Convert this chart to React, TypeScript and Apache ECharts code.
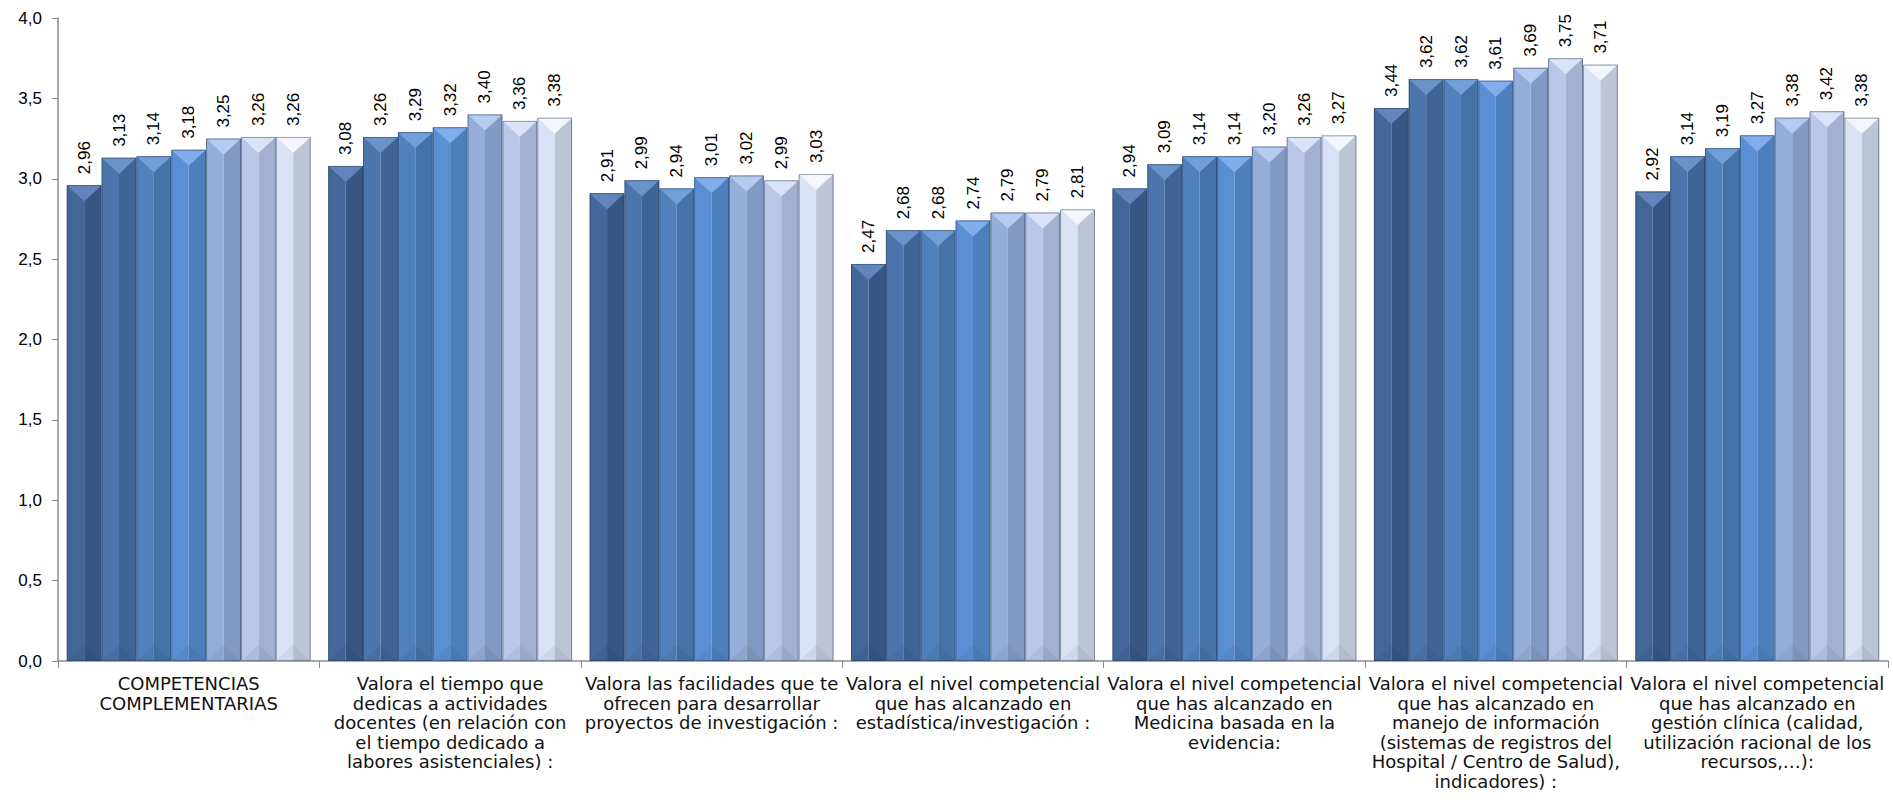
import React, { useEffect, useRef } from "react";
import * as echarts from "echarts";

const categories = [
  "COMPETENCIAS\nCOMPLEMENTARIAS",
  "Valora el tiempo que\ndedicas a actividades\ndocentes (en relación con\nel tiempo dedicado a\nlabores asistenciales) :",
  "Valora las facilidades que te\nofrecen para desarrollar\nproyectos de investigación :",
  "Valora el nivel competencial\nque has alcanzado en\nestadística/investigación :",
  "Valora el nivel competencial\nque has alcanzado en\nMedicina basada en la\nevidencia:",
  "Valora el nivel competencial\nque has alcanzado en\nmanejo de información\n(sistemas de registros del\nHospital / Centro de Salud),\nindicadores) :",
  "Valora el nivel competencial\nque has alcanzado en\ngestión clínica (calidad,\nutilización racional de los\nrecursos,…):",
];

const serie1 = [2.96, 3.08, 2.91, 2.47, 2.94, 3.44, 2.92];
const serie2 = [3.13, 3.26, 2.99, 2.68, 3.09, 3.62, 3.14];
const serie3 = [3.14, 3.29, 2.94, 2.68, 3.14, 3.62, 3.19];
const serie4 = [3.18, 3.32, 3.01, 2.74, 3.14, 3.61, 3.27];
const serie5 = [3.25, 3.4, 3.02, 2.79, 3.2, 3.69, 3.38];
const serie6 = [3.26, 3.36, 2.99, 2.79, 3.26, 3.75, 3.42];
const serie7 = [3.26, 3.38, 3.03, 2.81, 3.27, 3.71, 3.38];

const allSeries = [serie1, serie2, serie3, serie4, serie5, serie6, serie7];

const yTicks = { min: 0, max: 4, interval: 0.5 };

const palette = [
  { left: "#44679a", right: "#365784", top: "#6286bb" },
  { left: "#4b75ab", right: "#3f6596", top: "#6c93c9" },
  { left: "#5081bd", right: "#4572a8", top: "#739fd8" },
  { left: "#5b8fd3", right: "#4d7fbd", top: "#82adec" },
  { left: "#95add9", right: "#8299c4", top: "#b6cbf0" },
  { left: "#b9c8e9", right: "#a2b1d0", top: "#d9e4f8" },
  { left: "#d8e3f6", right: "#bcc5d6", top: "#f3f6fc" },
];

const fmt = (v: number, d: number) => v.toFixed(d).replace(".", ",");

export default function App() {
  const ref = useRef<HTMLDivElement>(null);
  useEffect(() => {
    if (!ref.current) return;
    const chart = echarts.init(ref.current, null, { renderer: "svg" });
    const n = allSeries.length;
    const gapRatio = 0.067;
    const series = allSeries.map((vals, si) => ({
      type: "custom",
      name: "S" + (si + 1),
      data: vals.map((v, j) => [j, v]),
      encode: { x: 0, y: 1 },
      renderItem: (params: any, api: any) => {
        const j = api.value(0);
        const v = api.value(1);
        const top = api.coord([j, v]);
        const base = api.coord([j, 0]);
        const band = api.size([1, 0])[0];
        const groupW = band * (1 - gapRatio);
        const bw = groupW / n;
        const x0 = top[0] - groupW / 2 + si * bw;
        const yT = top[1];
        const yB = base[1];
        const h = yB - yT;
        const d = Math.min(bw * 0.46, h / 2);
        const c = palette[si];
        const cx = x0 + bw / 2;
        return {
          type: "group",
          children: [
            { type: "rect", shape: { x: x0, y: yT, width: bw / 2, height: h }, style: { fill: c.left } },
            { type: "rect", shape: { x: x0 + bw / 2, y: yT, width: bw / 2, height: h }, style: { fill: c.right } },
            {
              type: "polygon",
              shape: { points: [[x0, yT], [x0 + bw, yT], [cx, yT + d]] },
              style: { fill: c.top },
            },
            {
              type: "polygon",
              shape: { points: [[x0, yB], [cx, yB - d], [x0 + bw, yB]] },
              style: { fill: "rgba(0,0,0,0.05)" },
            },
            {
              type: "rect",
              shape: { x: x0 + 0.5, y: yT + 0.5, width: bw - 1, height: h - 1 },
              style: { fill: "none", stroke: "rgba(35,50,75,0.45)", lineWidth: 1 },
            },
            {
              type: "text",
              x: cx,
              y: yT - 11,
              rotation: Math.PI / 2,
              style: {
                text: fmt(v, 2),
                fill: "#000",
                fontSize: 17,
                fontFamily: "Liberation Sans",
                align: "left",
                verticalAlign: "middle",
                textAlign: "left",
                textVerticalAlign: "middle",
              },
            },
          ],
        };
      },
    }));

    chart.setOption({
      animation: false,
      backgroundColor: "#ffffff",
      grid: { left: 58, right: 5, top: 18, bottom: 146 },
      xAxis: {
        type: "category",
        data: categories,
        boundaryGap: true,
        axisLine: { show: true, lineStyle: { color: "#8c8c8c", width: 1.5 } },
        axisTick: { show: true, length: 7, lineStyle: { color: "#8c8c8c" } },
        axisLabel: {
          interval: 0,
          margin: 13,
          color: "#111",
          fontSize: 18,
          lineHeight: 19.5,
          fontFamily: "DejaVu Sans",
          align: "center",
        },
      },
      yAxis: {
        type: "value",
        min: yTicks.min,
        max: yTicks.max,
        interval: yTicks.interval,
        splitLine: { show: false },
        axisLine: { show: true, lineStyle: { color: "#8c8c8c", width: 1.5 } },
        axisTick: { show: true, length: 6, lineStyle: { color: "#8c8c8c" } },
        axisLabel: {
          margin: 16,
          color: "#000",
          fontSize: 17,
          fontFamily: "Liberation Sans",
          formatter: (v: number) => fmt(v, 1),
        },
      },
      series,
    });
    return () => chart.dispose();
  }, []);
  return (
    <div
      ref={ref}
      style={{ position: "fixed", left: 0, top: 0, width: "1893px", height: "807px" }}
    />
  );
}
